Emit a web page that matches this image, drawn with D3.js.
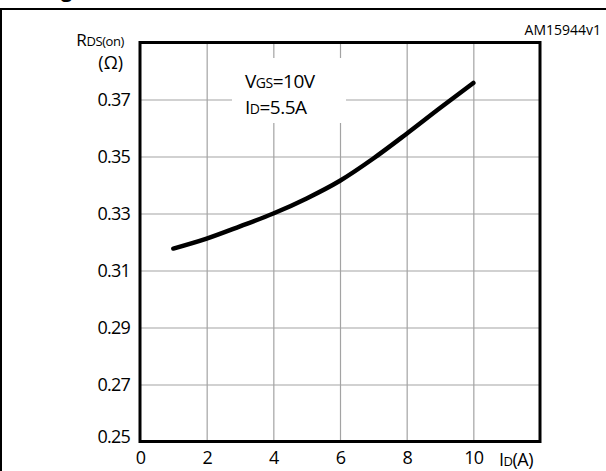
<!DOCTYPE html>
<html>
<head>
<meta charset="utf-8">
<script src="https://cdn.jsdelivr.net/npm/d3@7"></script>
<style>
  body { margin: 0; background: white; }
  text { font-family: "Open Sans", "Noto Sans", sans-serif; fill: black; }
</style>
</head>
<body>
<svg id="chart"></svg>
<script>
  // drain current (A) vs on-resistance (ohm)
  var idValues = [1, 2, 3, 4, 5, 6, 7, 8, 9, 10];
  var rdsValues = [0.3177, 0.3212, 0.3255, 0.3300, 0.3353, 0.3415, 0.3493, 0.3580, 0.3670, 0.3758];

  var xTicks = [0, 2, 4, 6, 8, 10];
  var yTicks = [0.25, 0.27, 0.29, 0.31, 0.33, 0.35, 0.37];
  var xGrid = [2, 4, 6, 8, 10];
  var yGrid = [0.27, 0.29, 0.31, 0.33, 0.35, 0.37];

  var W = 606, H = 471;
  // note: "top" is taken by window.top, so prefix these
  var plotLeft = 140, plotRight = 540, plotTop = 42.5, plotBottom = 441.5;

  var svg = d3.select("#chart").attr("width", W).attr("height", H);

  // outer frame of the figure (cut off at the page edge)
  svg.append("rect")
    .attr("x", 1).attr("y", 9)
    .attr("width", 700).attr("height", 600)
    .attr("fill", "none").attr("stroke", "black").attr("stroke-width", 2);

  // bit of the title above the frame
  svg.append("text")
    .attr("x", 61).attr("y", -3)
    .style("font-weight", "bold").style("font-size", "20px")
    .text("g");

  var x = d3.scaleLinear().domain([0, 12]).range([plotLeft, plotRight]);
  var y = d3.scaleLinear().domain([0.25, 0.39]).range([plotBottom, plotTop]);

  // grid
  svg.append("g")
    .attr("transform", "translate(0," + plotBottom + ")")
    .call(d3.axisBottom(x).tickValues(xGrid).tickSize(-(plotBottom - plotTop)).tickFormat(""))
    .call(function(g){ g.select(".domain").remove(); })
    .selectAll("line").attr("stroke", "#a3a3a3").attr("stroke-width", 1.2);

  svg.append("g")
    .attr("transform", "translate(" + plotLeft + ",0)")
    .call(d3.axisLeft(y).tickValues(yGrid).tickSize(-(plotRight - plotLeft)).tickFormat(""))
    .call(function(g){ g.select(".domain").remove(); })
    .selectAll("line").attr("stroke", "#a3a3a3").attr("stroke-width", 1.2);

  // white box behind the test conditions
  svg.append("rect")
    .attr("x", 232).attr("y", 58)
    .attr("width", 114).attr("height", 65)
    .attr("fill", "white");

  // plot frame
  svg.append("rect")
    .attr("x", plotLeft).attr("y", plotTop)
    .attr("width", plotRight - plotLeft).attr("height", plotBottom - plotTop)
    .attr("fill", "none").attr("stroke", "black").attr("stroke-width", 3);

  // tick labels
  var yAxis = svg.append("g")
    .attr("transform", "translate(" + plotLeft + ",0)")
    .call(d3.axisLeft(y).tickValues(yTicks).tickSize(0).tickPadding(10)
      .tickFormat(d3.format(".2f")));
  yAxis.select(".domain").remove();
  yAxis.selectAll("text")
    .style("font-size", "18px").style("letter-spacing", "-0.8px")
    .attr("dy", "0.32em");
  yAxis.selectAll("text").filter(function(d){ return d === 0.25; }).attr("y", -5);

  var xAxis = svg.append("g")
    .attr("transform", "translate(0," + plotBottom + ")")
    .call(d3.axisBottom(x).tickValues(xTicks).tickSize(0).tickPadding(10)
      .tickFormat(d3.format("d")));
  xAxis.select(".domain").remove();
  xAxis.selectAll("text")
    .style("font-size", "18px").style("letter-spacing", "-0.8px");

  // axis titles
  var xt = svg.append("text").attr("x", 499).attr("y", 466).style("font-size", "18px")
    .style("letter-spacing", "-0.5px");
  xt.append("tspan").text("I");
  xt.append("tspan").style("font-size", "13px").text("D");
  xt.append("tspan").text("(A)");

  var yt = svg.append("text").attr("x", 124).attr("y", 46)
    .attr("text-anchor", "end").style("font-size", "17px").style("letter-spacing", "-0.4px");
  yt.append("tspan").text("R");
  yt.append("tspan").style("font-size", "13px").text("DS(on)");

  svg.append("text").attr("x", 123).attr("y", 69)
    .attr("text-anchor", "end").style("font-size", "18px")
    .text("(\u03A9)");

  // test conditions
  var c1 = svg.append("text").attr("x", 245).attr("y", 88).style("font-size", "19px")
    .style("letter-spacing", "-0.5px");
  c1.append("tspan").text("V");
  c1.append("tspan").style("font-size", "14px").text("GS");
  c1.append("tspan").text("=10V");

  var c2 = svg.append("text").attr("x", 245).attr("y", 114).style("font-size", "19px")
    .style("letter-spacing", "-0.5px");
  c2.append("tspan").text("I");
  c2.append("tspan").style("font-size", "14px").text("D");
  c2.append("tspan").text("=5.5A");

  svg.append("text").attr("x", 601).attr("y", 35)
    .attr("text-anchor", "end").style("font-size", "14px")
    .text("AM15944v1");

  // curve
  var line = d3.line()
    .x(function(d, i){ return x(idValues[i]); })
    .y(function(d){ return y(d); })
    .curve(d3.curveMonotoneX);

  svg.append("path")
    .datum(rdsValues)
    .attr("d", line)
    .attr("fill", "none")
    .attr("stroke", "black")
    .attr("stroke-width", 4.5)
    .attr("stroke-linecap", "round");
</script>
</body>
</html>
